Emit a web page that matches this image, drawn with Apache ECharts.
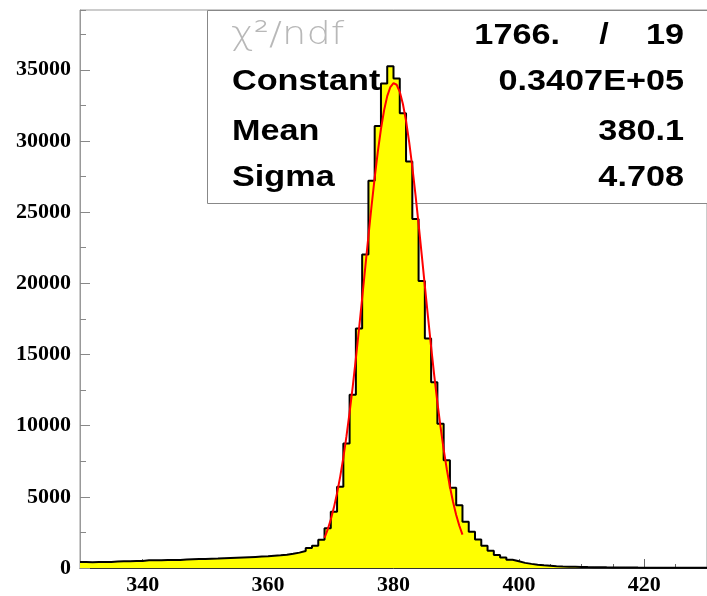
<!DOCTYPE html>
<html>
<head>
<meta charset="utf-8">
<script src="https://cdn.jsdelivr.net/npm/echarts@6/dist/echarts.min.js"></script>
<style>
html,body{margin:0;padding:0;background:#fff;}
#chart{width:707px;height:596px;}
</style>
</head>
<body>
<div id="chart"></div>
<script>
// ---- data ----
const binStart = 330;          // left edge of first bin
const binWidth = 1;
const counts = [
  420, 410, 420, 430, 430, 460, 470, 480, 490, 500,
  540, 540, 550, 560, 560, 570, 590, 610, 630, 640,
  650, 660, 680, 700, 720, 740, 760, 780, 800, 820,
  860, 890, 930, 1000, 1080, 1200, 1400, 1560, 1980, 2800,
  3960, 5710, 8740, 12170, 16830, 22030, 27200, 31050, 34030, 35240,
  34380, 31940, 28550, 24520, 20160, 16130, 13050, 10140, 7570, 5640,
  4400, 3250, 2550, 2000, 1570, 1210, 920, 730, 580, 470,
  360, 290, 230, 190, 160, 130, 110, 95, 85, 75,
  65, 58, 52, 46, 41, 37, 33, 30, 27, 25,
  22, 20, 18, 16, 14, 13, 12, 11, 10, 9
];
const fitX = [369, 369.5, 370, 370.5, 371, 371.5, 372, 372.5, 373, 373.5, 374, 374.5, 375, 375.5,
  376, 376.5, 377, 377.5, 378, 378.5, 379, 379.5, 380, 380.5, 381, 381.5, 382, 382.5, 383, 383.5,
  384, 384.5, 385, 385.5, 386, 386.5, 387, 387.5, 388, 388.5, 389, 389.5, 390, 390.5, 391];
const fitY = [2120, 2700, 3410, 4260, 5260, 6420, 7760, 9260, 10930, 12750, 14720, 16790, 18950, 21140,
  23320, 25430, 27430, 29250, 30840, 32160, 33150, 33790, 34060, 33950, 33450, 32600, 31410, 29920, 28180, 26250,
  24180, 22010, 19820, 17650, 15540, 13520, 11640, 9910, 8340, 6940, 5710, 4640, 3730, 2970, 2340];
const statLabels = ['χ²/ndf', 'Constant', 'Mean', 'Sigma'];
const chi2Value = '1766.';
const ndfValue = '19';
const statValues = ['0.3407E+05', '380.1', '4.708'];
const xMin = 330, xMax = 430;
const yMin = 0, yMax = 39200;

// ---- build ----
const histData = counts.map((c, i) => [binStart + i * binWidth, c]);
histData.push([binStart + counts.length * binWidth, counts[counts.length - 1]]);
const fitData = fitX.map((x, i) => [x, fitY[i]]);

const labelFont = {fontFamily: '"Liberation Serif", serif', fontWeight: 'bold', fontSize: 22, color: '#000',
  formatter: v => String(v)};

const chart = echarts.init(document.getElementById('chart'), null, {renderer: 'canvas'});

const rowY = [36, 82, 132, 178];
const boldFont = 'bold 29px "Liberation Sans", Arial, sans-serif';
const SX = 1.18;
const graphics = [
  {type: 'rect', z: 1, shape: {x: 207.5, y: 10.5, width: 520, height: 193}, style: {fill: '#fff', stroke: '#888', lineWidth: 1}},
  {type: 'text', z: 1, x: 231, y: rowY[0], scaleX: 1.2, style: {text: statLabels[0], font: '200 32px "DejaVu Sans", sans-serif', fill: '#b8b8b8', textAlign: 'left', textVerticalAlign: 'middle'}},
  {type: 'text', z: 1, x: 560, y: rowY[0], scaleX: SX, style: {text: chi2Value, font: boldFont, fill: '#000', textAlign: 'right', textVerticalAlign: 'middle'}},
  {type: 'text', z: 1, x: 604, y: rowY[0], scaleX: SX, style: {text: '/', font: boldFont, fill: '#000', textAlign: 'center', textVerticalAlign: 'middle'}},
  {type: 'text', z: 1, x: 684, y: rowY[0], scaleX: SX, style: {text: ndfValue, font: boldFont, fill: '#000', textAlign: 'right', textVerticalAlign: 'middle'}}
];
for (let i = 1; i < 4; i++) {
  graphics.push({type: 'text', z: 1, x: 232, y: rowY[i], scaleX: SX, style: {text: statLabels[i], font: boldFont, fill: '#000', textAlign: 'left', textVerticalAlign: 'middle'}});
  graphics.push({type: 'text', z: 1, x: 684, y: rowY[i], scaleX: SX, style: {text: statValues[i - 1], font: boldFont, fill: '#000', textAlign: 'right', textVerticalAlign: 'middle'}});
}

const option = {
  animation: false,
  backgroundColor: '#fff',
  grid: {left: 80, top: 10, right: -4, bottom: 26, show: true, borderColor: '#999', borderWidth: 1, containLabel: false},
  xAxis: [
    {type: 'value', min: xMin, max: xMax, splitNumber: 5, position: 'bottom',
     axisLine: {show: true, onZero: false, lineStyle: {color: '#333', width: 1}},
     axisTick: {show: true, inside: true, length: 9, lineStyle: {color: '#666'}},
     axisLabel: Object.assign({margin: 6, showMinLabel: false, showMaxLabel: false}, labelFont),
     splitLine: {show: false}},
    {type: 'value', min: xMin, max: xMax, interval: 5, position: 'bottom',
     axisLine: {show: false, onZero: false},
     axisTick: {show: true, inside: true, length: 4, lineStyle: {color: '#666'}},
     axisLabel: {show: false}, splitLine: {show: false}}
  ],
  yAxis: [
    {type: 'value', min: yMin, max: yMax, interval: 5000, position: 'left',
     axisLine: {show: true, onZero: false, lineStyle: {color: '#999', width: 1}},
     axisTick: {show: true, inside: true, length: 10, lineStyle: {color: '#888'}},
     axisLabel: Object.assign({margin: 9, showMaxLabel: false}, labelFont),
     splitLine: {show: false}},
    {type: 'value', min: yMin, max: yMax, interval: 2500, position: 'left',
     axisLine: {show: false, onZero: false},
     axisTick: {show: true, inside: true, length: 6, lineStyle: {color: '#888'}},
     axisLabel: {show: false}, splitLine: {show: false}}
  ],
  graphic: graphics,
  series: [
    {type: 'line', xAxisIndex: 0, yAxisIndex: 0, data: histData, step: 'end', symbol: 'none', z: 3,
     lineStyle: {color: '#000', width: 2}, areaStyle: {color: '#ffff00', opacity: 1}},
    {type: 'line', xAxisIndex: 0, yAxisIndex: 0, data: fitData, symbol: 'none', smooth: false, z: 4,
     lineStyle: {color: '#ff0000', width: 2}}
  ]
};
chart.setOption(option);
</script>
</body>
</html>
